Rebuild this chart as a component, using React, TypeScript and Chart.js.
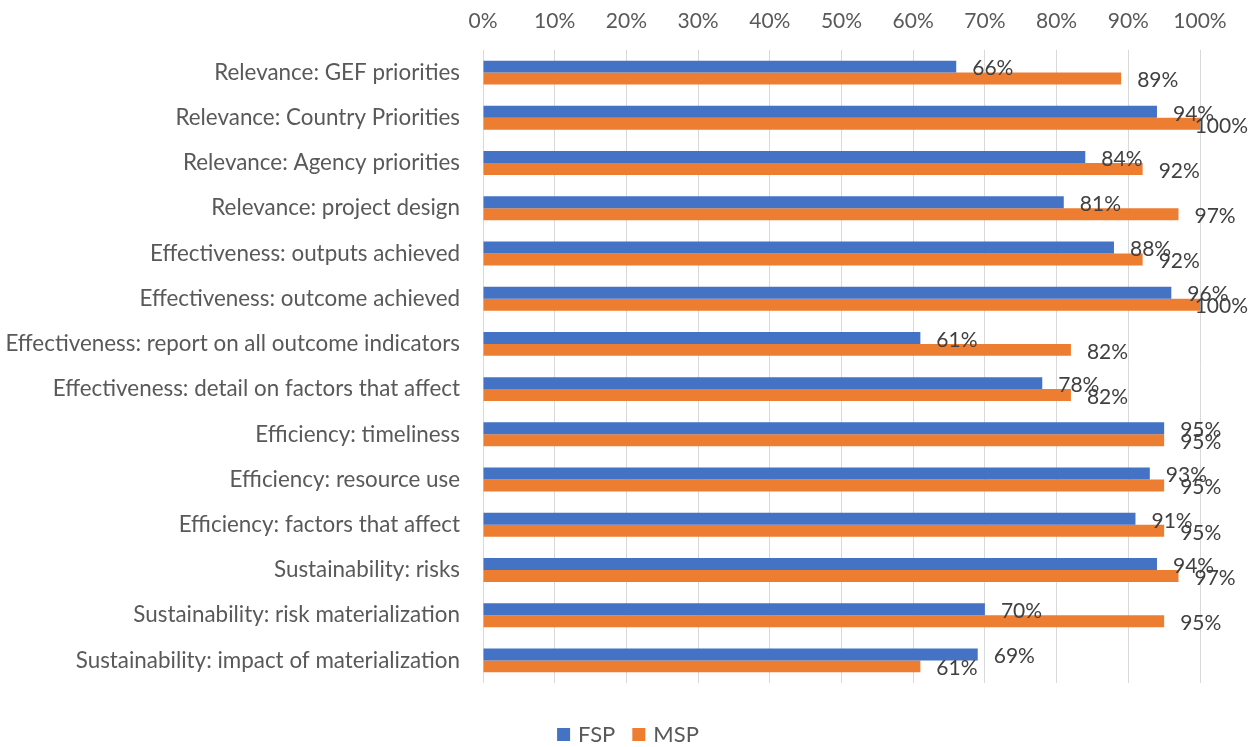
import React, { useEffect, useRef } from "react";
import { Chart, registerables } from "chart.js";

Chart.register(...registerables);

const categories: string[] = [
  "Relevance: GEF priorities",
  "Relevance: Country Priorities",
  "Relevance: Agency priorities",
  "Relevance: project design",
  "Effectiveness: outputs achieved",
  "Effectiveness: outcome achieved",
  "Effectiveness: report on all outcome indicators",
  "Effectiveness: detail on factors that affect",
  "Efficiency: timeliness",
  "Efficiency: resource use",
  "Efficiency: factors that affect",
  "Sustainability: risks",
  "Sustainability: risk materialization",
  "Sustainability: impact of materialization",
];

const fspValues: number[] = [66, 94, 84, 81, 88, 96, 61, 78, 95, 93, 91, 94, 70, 69];
const mspValues: number[] = [89, 100, 92, 97, 92, 100, 82, 82, 95, 95, 95, 97, 95, 61];

const xTicks: number[] = [0, 10, 20, 30, 40, 50, 60, 70, 80, 90, 100];

const FONT = "Lato, 'Open Sans', sans-serif";

const labelPlugin = {
  id: "barLabels",
  afterDatasetsDraw(chart: any) {
    const ctx = chart.ctx;
    ctx.save();
    ctx.font = `21px ${FONT}`;
    ctx.fillStyle = "#404040";
    ctx.textAlign = "left";
    ctx.textBaseline = "middle";
    chart.data.datasets.forEach((ds: any, i: number) => {
      const meta = chart.getDatasetMeta(i);
      meta.data.forEach((bar: any, j: number) => {
        const txt = `${ds.data[j]}%`;
        const w = ctx.measureText(txt).width;
        const x = Math.min(bar.x + 16, chart.width - 12 - w);
        ctx.fillText(txt, x, bar.y + 2);
      });
    });
    ctx.restore();
  },
};

const legendPlugin = {
  id: "customLegend",
  afterDraw(chart: any) {
    const ctx = chart.ctx;
    ctx.save();
    ctx.font = `22px ${FONT}`;
    ctx.textBaseline = "middle";
    ctx.textAlign = "left";
    const items = chart.data.datasets.map((ds: any) => ({
      label: ds.label,
      color: ds.backgroundColor,
      w: ctx.measureText(ds.label).width,
    }));
    const box = 13;
    const gap = 8;
    const itemGap = 17;
    let total = 0;
    items.forEach((it: any, k: number) => {
      total += box + gap + it.w + (k < items.length - 1 ? itemGap : 0);
    });
    let x = chart.width / 2 - 2 - total / 2;
    const cy = 735;
    items.forEach((it: any) => {
      ctx.fillStyle = it.color;
      ctx.fillRect(x, cy - 7, box, box);
      x += box + gap;
      ctx.fillStyle = "#595959";
      ctx.fillText(it.label, x, cy);
      x += it.w + itemGap;
    });
    ctx.restore();
  },
};

export default function App() {
  const ref = useRef<HTMLCanvasElement | null>(null);

  useEffect(() => {
    if (!ref.current) return;
    const chart = new Chart(ref.current, {
      type: "bar",
      data: {
        labels: categories,
        datasets: [
          {
            label: "FSP",
            data: fspValues,
            backgroundColor: "#4472C4",
            categoryPercentage: 0.53,
            barPercentage: 1,
            xAxisID: "x",
          },
          {
            label: "MSP",
            data: mspValues,
            backgroundColor: "#ED7D31",
            categoryPercentage: 0.53,
            barPercentage: 1,
            xAxisID: "x",
          },
        ],
      },
      options: {
        indexAxis: "y",
        responsive: false,
        animation: false,
        layout: { padding: { left: 0, right: 60, top: 0, bottom: 0 } },
        scales: {
          x: {
            position: "top",
            min: 0,
            max: 100,
            afterBuildTicks: (s: any) => {
              s.ticks = xTicks.map((v) => ({ value: v }));
            },
            ticks: {
              callback: (v: any) => `${v}%`,
              color: "#595959",
              font: { family: FONT, size: 21 },
              padding: 16,
              maxRotation: 0,
            },
            grid: { color: "#D9D9D9", drawTicks: false, lineWidth: 1 },
            border: { display: false },
            afterFit: (s: any) => {
              s.height = 50;
            },
          },
          xb: {
            type: "linear",
            position: "bottom",
            min: 0,
            max: 100,
            ticks: { display: false },
            grid: { display: false, drawTicks: false },
            border: { display: false },
            afterFit: (s: any) => {
              s.height = 64;
            },
          },
          y: {
            ticks: {
              color: "#595959",
              font: { family: FONT, size: 22.4 },
              padding: 23,
            },
            grid: { display: false, drawTicks: false },
            border: { display: false },
            afterFit: (s: any) => {
              s.width = 483;
            },
          },
        },
        plugins: {
          legend: { display: false },
          tooltip: { enabled: false },
        },
      },
      plugins: [labelPlugin, legendPlugin],
    } as any);
    return () => chart.destroy();
  }, []);

  return (
    <div style={{ position: "absolute", left: 0, top: 0, width: 1260, height: 747, background: "#fff" }}>
      <canvas ref={ref} width={1260} height={747} style={{ display: "block" }} />
    </div>
  );
}
